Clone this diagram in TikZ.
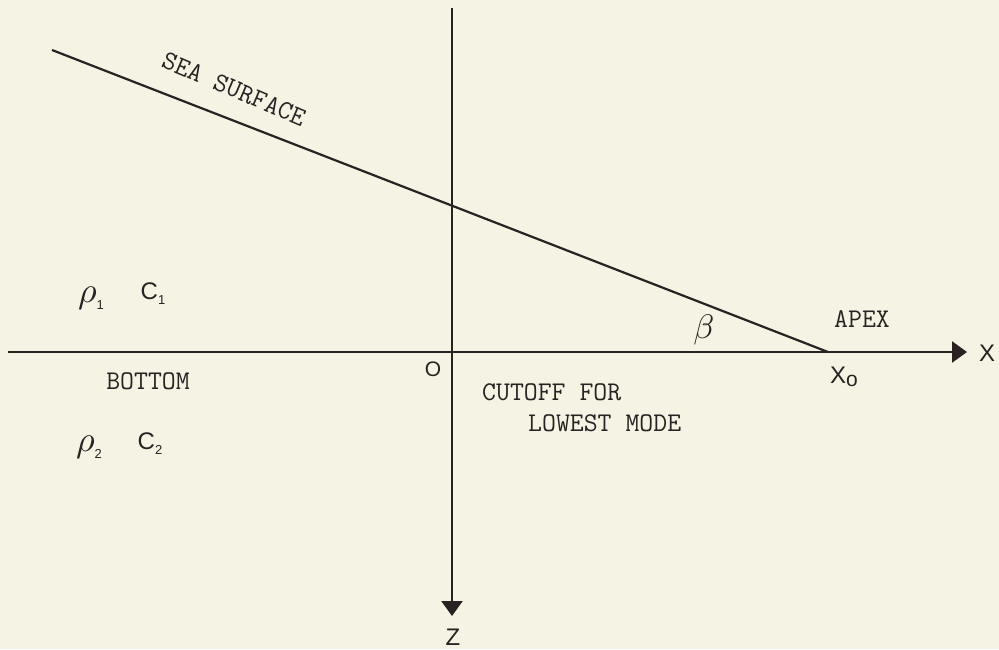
\documentclass[tikz,border=0pt]{standalone}
\usepackage{fontspec}
\setsansfont{Liberation Sans}
\usetikzlibrary{arrows.meta}
\definecolor{bg}{HTML}{F4F3E4}
\definecolor{ink}{HTML}{2A2222}
\begin{document}
\begin{tikzpicture}[x=1pt,y=-1pt,
  axis/.style={draw=ink,line width=2.6pt},
  tip/.style={-{Triangle[length=15pt,width=21pt]}},
  tw/.style={font=\ttfamily\fontsize{27}{30}\selectfont,text=ink,inner sep=0pt},
  sf/.style={font=\sffamily\fontsize{24}{26}\selectfont,text=ink,inner sep=0pt},
  mt/.style={text=ink,inner sep=0pt}]
\fill[bg] (0,0) rectangle (999,649);
\useasboundingbox (0,0) rectangle (999,649);
% coordinates
\coordinate (ztop) at (452,8);
\coordinate (zend) at (452,616);
\coordinate (xstart) at (8,352);
\coordinate (xend) at (967,352);
\coordinate (seastart) at (52,50);
\coordinate (apex) at (828,352);
% axes
\draw[axis,tip] (xstart) -- (xend);
\draw[axis,tip] (ztop) -- (zend);
\draw[draw=ink,line width=2.2pt] (seastart) -- (apex);
% labels
\node[tw,rotate=-23] (sea) at (234,89) {SEA SURFACE};
\node[tw] (bottom) at (148,381) {BOTTOM};
\node[tw] (apexl) at (862,319) {APEX};
\node[tw,anchor=west] (cut1) at (482,392) {CUTOFF FOR};
\node[tw,anchor=west] (cut2) at (528,423) {LOWEST MODE};
\node[sf,font=\sffamily\fontsize{21}{22}\selectfont] (o) at (433,369) {O};
\node[sf] (xl) at (987,353) {X};
\node[sf] (zl) at (453,637) {Z};
\node[sf] (x0) at (844,377) {X\raisebox{-3pt}{\fontsize{21}{22}\selectfont o}};
\node[mt] (beta) at (704,330) {\scalebox{3.4}{$\beta$}};
\node[mt] (rho1) at (91,298) {\scalebox{3.6}{$\rho$}\raisebox{-7pt}{\sffamily\fontsize{13}{14}\selectfont 1}};
\node[sf] (c1) at (153,294) {C\raisebox{-5pt}{\fontsize{13}{14}\selectfont 1}};
\node[mt] (rho2) at (89,447) {\scalebox{3.6}{$\rho$}\raisebox{-7pt}{\sffamily\fontsize{13}{14}\selectfont 2}};
\node[sf] (c2) at (150,444) {C\raisebox{-5pt}{\fontsize{13}{14}\selectfont 2}};
\end{tikzpicture}
\end{document}
